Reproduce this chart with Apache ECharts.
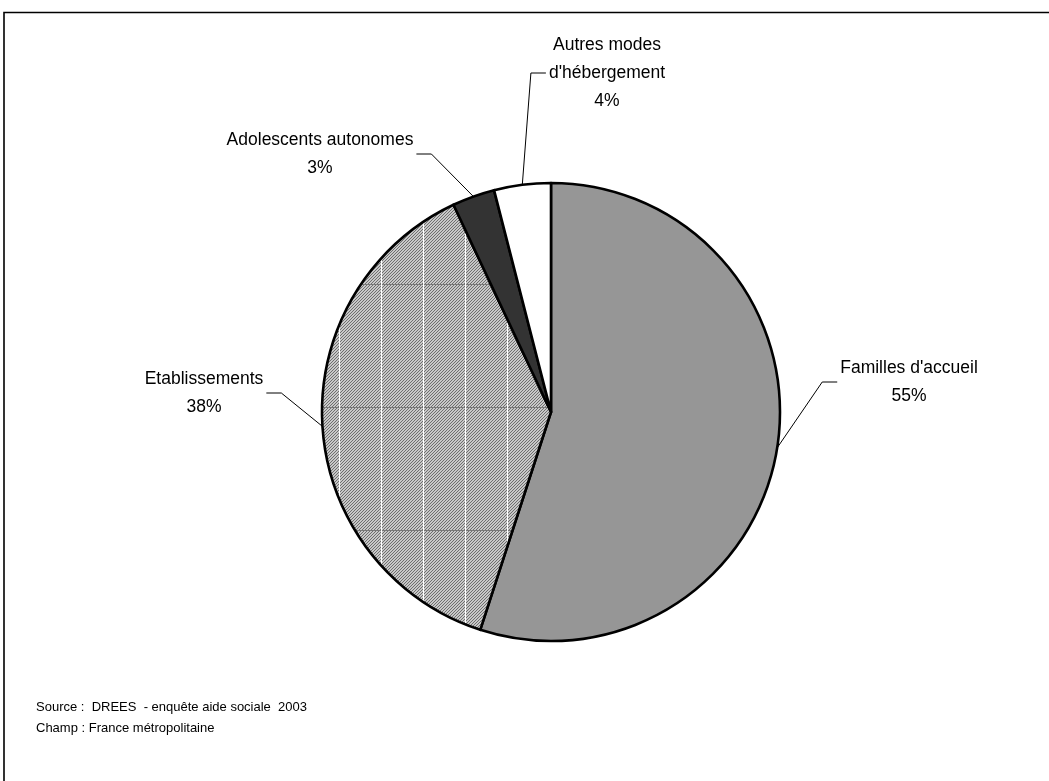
<!DOCTYPE html>
<html>
<head>
<meta charset="utf-8">
<script src="https://cdn.jsdelivr.net/npm/echarts@6/dist/echarts.min.js"></script>
<style>
  html, body { margin: 0; padding: 0; background: #ffffff; }
  #chart { width: 1049px; height: 781px; }
</style>
</head>
<body>
<div id="chart"></div>
<script>
// Placement of children in care, by type of accommodation (%)
const categories = ["Familles d'accueil", "Etablissements", "Adolescents autonomes", "Autres modes\nd'hébergement"];
const shares = [55, 38, 3, 4];
const sourceLines = ["Source :  DREES  - enquête aide sociale  2003", "Champ : France métropolitaine"];

const FONT = "'Liberation Sans', Arial, sans-serif";

// Fine diagonal hatch with a loose white/gray grid, used for the "Etablissements" slice
function hatchTile() {
  const w = 42, h = 123;
  const c = document.createElement('canvas');
  c.width = w; c.height = h;
  const ctx = c.getContext('2d');
  const img = ctx.createImageData(w, h);
  for (let y = 0; y < h; y++) {
    for (let x = 0; x < w; x++) {
      let v = ((x + y) % 3 === 0) ? 110 : 200;
      if (y === 38) v = 120;
      if (x === 3) v = 255;
      const i = (y * w + x) * 4;
      img.data[i] = v; img.data[i + 1] = v; img.data[i + 2] = v; img.data[i + 3] = 255;
    }
  }
  ctx.putImageData(img, 0, 0);
  return c;
}

const fills = ['#969696', { image: hatchTile(), repeat: 'repeat' }, '#333333', '#ffffff'];

// Label block centres (px) and leader-line geometry
const labelCentres = [[909, 382], [204, 393], [320, 154], [607, 73]];
const ELBOW = 15, GAP = 3;

const chart = echarts.init(document.getElementById('chart'), null, { renderer: 'canvas' });

chart.setOption({
  backgroundColor: '#ffffff',
  animation: false,
  graphic: [
    {
      type: 'rect', silent: true, z: -1,
      shape: { x: 4, y: 12.5, width: 1200, height: 900 },
      style: { fill: 'none', stroke: '#000000', lineWidth: 1.6 }
    },
    {
      type: 'text', left: 36, top: 697, silent: true,
      style: { text: sourceLines.join('\n'), font: '13px ' + FONT, lineHeight: 21, fill: '#000000' }
    }
  ],
  series: [{
    type: 'pie',
    center: [551, 412],
    radius: 229,
    startAngle: 90,
    clockwise: true,
    avoidLabelOverlap: false,
    emphasis: { disabled: true },
    itemStyle: { borderColor: '#000000', borderWidth: 2.6 },
    label: {
      show: true,
      position: 'outside',
      color: '#000000',
      fontFamily: FONT,
      fontSize: 17.5,
      lineHeight: 28,
      align: 'center',
      formatter: p => p.name + '\n' + p.percent + '%'
    },
    labelLine: {
      show: true,
      length: 10,
      length2: 10,
      lineStyle: { color: '#000000', width: 1 }
    },
    labelLayout: params => {
      const [cx, cy] = labelCentres[params.dataIndex];
      const w = params.labelRect.width;
      const anchor = params.labelLinePoints[0];
      let end, elbow;
      if (anchor[0] < cx) {
        end = [cx - w / 2 - GAP, cy];
        elbow = [end[0] - ELBOW, cy];
      } else {
        end = [cx + w / 2 + GAP, cy];
        elbow = [end[0] + ELBOW, cy];
      }
      return {
        x: cx, y: cy,
        align: 'center', verticalAlign: 'middle',
        labelLinePoints: [anchor, elbow, end]
      };
    },
    data: categories.map((name, i) => ({
      name: name,
      value: shares[i],
      itemStyle: { color: fills[i] }
    }))
  }]
});
</script>
</body>
</html>
